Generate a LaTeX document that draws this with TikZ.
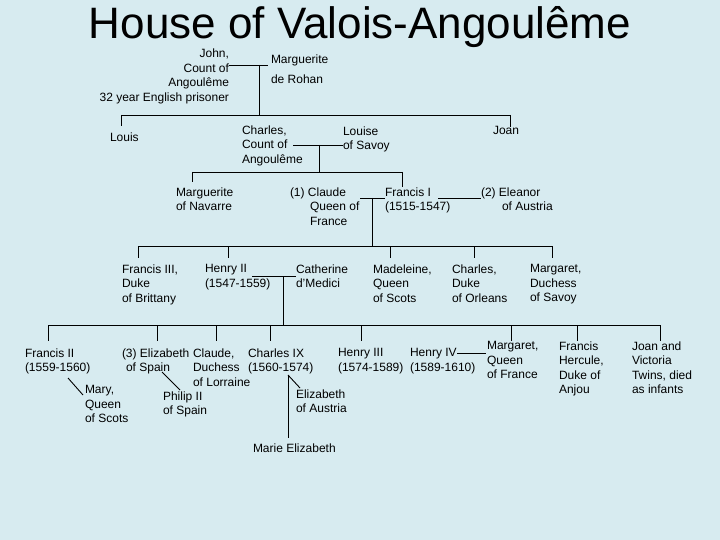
\documentclass[tikz,border=0pt]{standalone}
\usepackage{fontspec}
\setmainfont{Liberation Sans}
\definecolor{bg}{RGB}{215,235,240}
\begin{document}
\begin{tikzpicture}[x=1pt,y=-1pt,
  lbl/.style={anchor=north west,inner sep=0pt,outer sep=0pt,align=left,font=\fontsize{12}{14.5}\selectfont},
  lblr/.style={lbl,anchor=north east,align=right},
  link/.style={line width=0.9pt,black}]
\fill[bg] (0,0) rectangle (720,540);
\useasboundingbox (0,0) rectangle (720,540);
\node[anchor=base,inner sep=0pt,font=\fontsize{44}{50}\selectfont] (title) at (360,39) {House of Valois-Angoulême};
% generation 0
\node[lblr] (john) at (229,49) {John,\\Count of\\Angoulême\\32 year English prisoner};
\node[lbl] (rohan) at (271,54.5) {Marguerite\\[5.5pt]de Rohan};
% generation 1
\node[lbl] (louis) at (110,132.5) {Louis};
\node[lbl] (charles) at (242,125.5) {Charles,\\Count of\\Angoulême};
\node[lbl] (louise) at (343,126.5) {Louise\\of Savoy};
\node[lbl] (joan) at (493,126.5) {Joan};
% generation 2
\node[lbl] (margnav) at (176,187.5) {Marguerite\\of Navarre};
\node[lbl] (claude) at (290,187.5) {(1) Claude\\\hspace*{20pt}Queen of\\\hspace*{20pt}France};
\node[lbl] (francis1) at (385,187.5) {Francis I\\(1515-1547)};
\node[lbl] (eleanor) at (481,187.5) {(2) Eleanor\\\hspace*{21pt}of Austria};
% generation 3
\node[lbl] (francis3) at (122,264.5) {Francis III,\\Duke\\of Brittany};
\node[lbl] (henry2) at (205,264.5) {Henry II\\(1547-1559)};
\node[lbl] (catherine) at (296,264.5) {Catherine\\d'Medici};
\node[lbl] (madeleine) at (373,264.5) {Madeleine,\\Queen\\of Scots};
\node[lbl] (charlesorl) at (452,264.5) {Charles,\\Duke\\of Orleans};
\node[lbl] (margsav) at (530,264.5) {Margaret,\\Duchess\\of Savoy};
% generation 4
\node[lbl] (francis2) at (25,348.5) {Francis II\\(1559-1560)};
\node[lbl] (mary) at (85,385.5) {Mary,\\Queen\\of Scots};
\node[lbl] (elizabeth) at (122,348.5) {(3) Elizabeth\\\hspace*{4pt}of Spain};
\node[lbl] (philip) at (163,391.5) {Philip II\\of Spain};
\node[lbl] (claudel) at (193,348.5) {Claude,\\Duchess\\of Lorraine};
\node[lbl] (charles9) at (248,348.5) {Charles IX\\(1560-1574)};
\node[lbl] (elizaus) at (296,389.5) {Elizabeth\\of Austria};
\node[lbl] (marie) at (253,443.5) {Marie Elizabeth};
\node[lbl] (henry3) at (338,348.5) {Henry III\\(1574-1589)};
\node[lbl] (henry4) at (410,348.5) {Henry IV\\(1589-1610)};
\node[lbl] (margfr) at (487,341.5) {Margaret,\\Queen\\of France};
\node[lbl] (hercule) at (559,341.5) {Francis\\Hercule,\\Duke of\\Anjou};
\node[lbl] (twins) at (632,341.5) {Joan and\\Victoria\\Twins, died\\as infants};
% junctions
\coordinate (m0) at (259,65);
\coordinate (b1L) at (121,115);
\coordinate (b1R) at (510,115);
\coordinate (m1) at (319,145);
\coordinate (b2L) at (192,172);
\coordinate (b2R) at (402,172);
\coordinate (m2) at (372,198);
\coordinate (b3L) at (138,246);
\coordinate (b3R) at (552,246);
\coordinate (m3) at (283,276);
\coordinate (b4L) at (48,325);
\coordinate (b4R) at (660,325);
\coordinate (m4) at (288,375);
\coordinate (m5) at (457,353);
% connectors
\draw[link] (m0 -| john.east) -- ([xshift=-3pt]m0 -| rohan.west);
\draw[link] (m0) -- (m0 |- b1L);
\draw[link] (b1L) -- (b1R);
\draw[link] (b1L) -- (121,126);
\draw[link] (b1R) -- (510,127);
\draw[link] (293,145) -- (m1 -| louise.west);
\draw[link] (m1) -- (m1 |- b2L);
\draw[link] (b2L) -- (b2R);
\draw[link] (b2L) -- (192,182);
\draw[link] (b2R) -- (402,187);
\draw[link] (360,198) -- (m2 -| francis1.west);
\draw[link] (438,198) -- (m2 -| eleanor.west);
\draw[link] (m2) -- (m2 |- b3L);
\draw[link] (b3L) -- (b3R);
\foreach \x in {138,228,390,474,552} \draw[link] (\x,246) -- (\x,258);
\draw[link] (252,276) -- (m3 -| catherine.west);
\draw[link] (m3) -- (m3 |- b4L);
\draw[link] (b4L) -- (b4R);
\foreach \x in {48,157,216,270,361,511,577,660} \draw[link] (\x,325) -- (\x,341);
\draw[link] (68,378) -- (83,395);
\draw[link] (162,372) -- (180,390);
\draw[link] (m4) -- (300,388);
\draw[link] (m4) -- (288,438);
\draw[link] (m5) -- ([xshift=-1pt]m5 -| margfr.west);
\end{tikzpicture}
\end{document}
